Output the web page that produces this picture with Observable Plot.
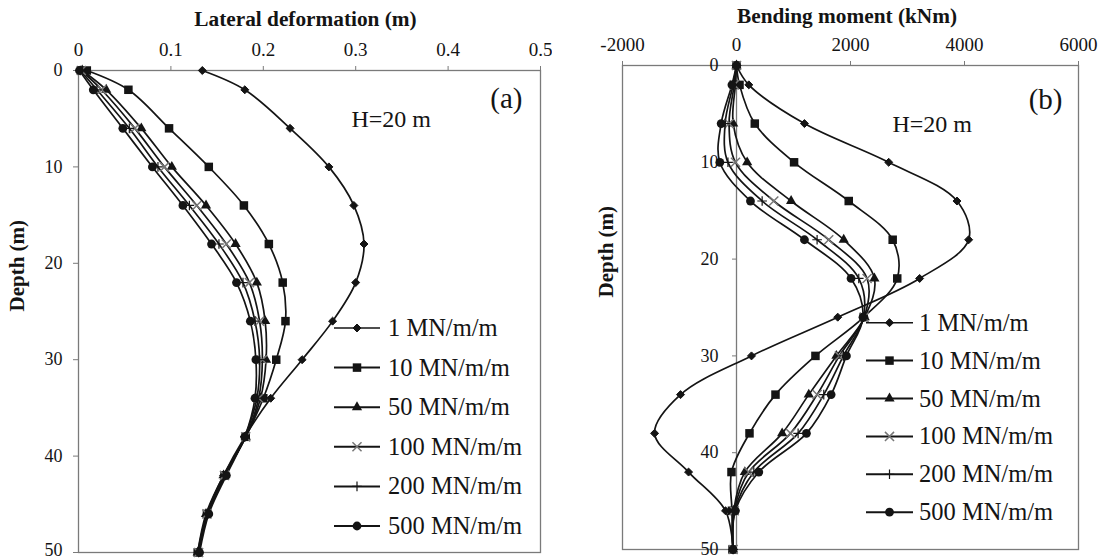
<!DOCTYPE html>
<html><head><meta charset="utf-8">
<script src="https://cdn.jsdelivr.net/npm/d3@7"></script>
<script src="https://cdn.jsdelivr.net/npm/@observablehq/plot@0.6"></script>
<style>
body{margin:0;background:#fff;}
#wrap{position:relative;width:1105px;height:560px;overflow:hidden;background:#fff;font-family:"Liberation Serif","Times New Roman",serif;color:#1a1a1a;}
.panel{position:absolute;top:0;}
#legend{position:absolute;left:0;top:0;pointer-events:none;}
svg text{font-family:"Liberation Serif","Times New Roman",serif;}
</style></head><body>
<div id="wrap"><div id="pa" class="panel" style="left:0"></div><div id="pb" class="panel" style="left:552px"></div><svg id="legend" width="1105" height="560"></svg></div>
<script>
// ---- data ----
const depths = [0, 2, 6, 10, 14, 18, 22, 26, 30, 34, 38, 42, 46, 50];
const stiffness = ["1 MN/m/m", "10 MN/m/m", "50 MN/m/m", "100 MN/m/m", "200 MN/m/m", "500 MN/m/m"];

// Lateral deformation (m)
const defl_1   = [0.134, 0.180, 0.229, 0.271, 0.298, 0.309, 0.300, 0.275, 0.242, 0.208, 0.180, 0.157, 0.139, 0.130];
const defl_10  = [0.009, 0.054, 0.098, 0.141, 0.179, 0.206, 0.221, 0.224, 0.214, 0.200, 0.181, 0.158, 0.139, 0.129];
const defl_50  = [0.004, 0.030, 0.068, 0.101, 0.138, 0.170, 0.193, 0.202, 0.203, 0.197, 0.181, 0.157, 0.138, 0.129];
const defl_100 = [0.003, 0.025, 0.061, 0.093, 0.128, 0.160, 0.185, 0.196, 0.199, 0.195, 0.181, 0.158, 0.139, 0.130];
const defl_200 = [0.002, 0.020, 0.055, 0.086, 0.120, 0.152, 0.178, 0.191, 0.196, 0.193, 0.180, 0.159, 0.140, 0.130];
const defl_500 = [0.001, 0.016, 0.048, 0.080, 0.113, 0.144, 0.171, 0.186, 0.192, 0.191, 0.180, 0.160, 0.141, 0.131];

// Bending moment (kNm)
const mom_1   = [0, 216, 1192, 2670, 3868, 4073, 3213, 1776, 263, -982, -1437, -841, -193, -60];
const mom_10  = [0, 53, 321, 1010, 1969, 2740, 2820, 2232, 1385, 684, 228, -88, -80, -70];
const mom_50  = [0, -20, -58, 187, 958, 1881, 2419, 2250, 1753, 1268, 801, 146, -50, -60];
const mom_100 = [0, -40, -130, -18, 654, 1618, 2291, 2240, 1805, 1414, 947, 216, -40, -60];
const mom_200 = [0, -60, -200, -150, 450, 1414, 2145, 2230, 1876, 1531, 1081, 304, -30, -60];
const mom_500 = [0, -80, -269, -292, 245, 1192, 2010, 2220, 1928, 1660, 1227, 391, -20, -60];

const xTicksA = [0, 0.1, 0.2, 0.3, 0.4, 0.5];
const xTicksB = [-2000, 0, 2000, 4000, 6000];
const yTicks = [0, 10, 20, 30, 40, 50];

// ---- styles ----
const INK = "#141414", GRID = "#7a7a7a";
const FONT = "Liberation Serif, Times New Roman, serif";
const sym = [
  {symbol: "diamond2", r: 3.6, fill: INK, stroke: INK, sw: 1},
  {symbol: "square", r: 4.8, fill: INK, stroke: "none", sw: 0},
  {symbol: "triangle", r: 3.8, fill: INK, stroke: "none", sw: 0},
  {symbol: "times", r: 4.2, fill: "none", stroke: "#777", sw: 1.5},
  {symbol: "plus", r: 3.2, fill: "none", stroke: INK, sw: 1.2},
  {symbol: "circle", r: 4.4, fill: INK, stroke: "none", sw: 0}
];

function rowsFor(seriesValues) {
  return seriesValues.map((vals, i) => depths.map((d, j) => ({series: stiffness[i], depth: d, value: vals[j]})));
}

function seriesMarks(rows) {
  const marks = [];
  rows.forEach((r) => {
    marks.push(Plot.line(r, {x: "value", y: "depth", curve: "catmull-rom", stroke: INK, strokeWidth: 1.7}));
  });
  rows.forEach((r, i) => {
    const s = sym[i];
    marks.push(Plot.dot(r, {x: "value", y: "depth", symbol: s.symbol, r: s.r, fill: s.fill, stroke: s.stroke, strokeWidth: s.sw}));
  });
  return marks;
}

const lastY = yTicks[yTicks.length - 1];

// ---- panel (a) ----
const WA = 552, HA = 560, mA = {l: 78, r: 12, t: 70, b: 8};
const rowsA = rowsFor([defl_1, defl_10, defl_50, defl_100, defl_200, defl_500]);
const plotA = Plot.plot({
  width: WA, height: HA,
  marginLeft: mA.l, marginRight: mA.r, marginTop: mA.t, marginBottom: mA.b,
  style: {fontFamily: FONT, fontSize: "19px", color: INK, background: "white", overflow: "visible"},
  x: {domain: [0, 0.5], axis: null},
  y: {domain: [0, 50], reverse: true, axis: null},
  marks: [
    Plot.frame({stroke: GRID, strokeWidth: 1.3}),
    Plot.axisX(xTicksA, {anchor: "top", tickSize: 5, tickPadding: 10, stroke: GRID, fill: INK, fontSize: 19, tickFormat: d => String(d), label: null}),
    Plot.axisY(yTicks, {anchor: "left", tickSize: 5, tickPadding: 11, stroke: GRID, fill: INK, fontSize: 18, tickFormat: d => d === lastY ? "" : String(d), label: null}),
    Plot.axisY([lastY], {anchor: "left", tickSize: 0, tickPadding: 16, dy: -2.5, fill: INK, fontSize: 18, label: null}),
    ...seriesMarks(rowsA),
    Plot.text(["Lateral deformation (m)"], {frameAnchor: "top", lineAnchor: "middle", dx: -4, dy: -51, fontWeight: "bold", fontSize: 21.3, fill: INK}),
    Plot.text(["Depth (m)"], {frameAnchor: "left", lineAnchor: "middle", rotate: -90, dx: -61.5, dy: 0, fontWeight: "bold", fontSize: 21, fill: INK}),
    Plot.text(["(a)"], {frameAnchor: "top-right", lineAnchor: "middle", textAnchor: "end", dx: -18, dy: 28, fontSize: 29, fill: INK}),
    Plot.text(["H=20 m"], {frameAnchor: "top-left", lineAnchor: "middle", textAnchor: "start", dx: 273, dy: 49, fontSize: 24, fill: INK})
  ]
});
document.getElementById("pa").appendChild(plotA);

// ---- panel (b) ----
const WB = 553, HB = 560, mB = {l: 70, r: 27, t: 65, b: 11};
const xDomB = [-2000, 6000];
const axisOffset = (WB - mB.l - mB.r) * (0 - xDomB[0]) / (xDomB[1] - xDomB[0]);
const rowsB = rowsFor([mom_1, mom_10, mom_50, mom_100, mom_200, mom_500]);
const plotB = Plot.plot({
  width: WB, height: HB,
  marginLeft: mB.l, marginRight: mB.r, marginTop: mB.t, marginBottom: mB.b,
  style: {fontFamily: FONT, fontSize: "19px", color: INK, background: "white", overflow: "visible"},
  x: {domain: xDomB, axis: null},
  y: {domain: [0, 50], reverse: true, axis: null},
  marks: [
    Plot.frame({stroke: GRID, strokeWidth: 1.3}),
    Plot.ruleX([0], {stroke: GRID, strokeWidth: 1.3}),
    Plot.axisX(xTicksB, {anchor: "top", tickSize: 5, tickPadding: 10, stroke: GRID, fill: INK, fontSize: 19, tickFormat: d => String(d), label: null}),
    Plot.axisY(yTicks, {anchor: "left", dx: axisOffset, tickSize: 4, tickPadding: 14, stroke: GRID, fill: INK, fontSize: 18, label: null}),
    ...seriesMarks(rowsB),
    Plot.text(["Bending moment (kNm)"], {frameAnchor: "top", lineAnchor: "middle", dx: -3.5, dy: -49, fontWeight: "bold", fontSize: 21.3, fill: INK}),
    Plot.text(["Depth (m)"], {frameAnchor: "left", lineAnchor: "middle", rotate: -90, dx: -16, dy: -10, fontWeight: "bold", fontSize: 21, fill: INK}),
    Plot.text(["(b)"], {frameAnchor: "top-right", lineAnchor: "middle", textAnchor: "end", dx: -16, dy: 34, fontSize: 29, fill: INK}),
    Plot.text(["H=20 m"], {frameAnchor: "top-left", lineAnchor: "middle", textAnchor: "start", dx: 270, dy: 59, fontSize: 24, fill: INK})
  ]
});
document.getElementById("pb").appendChild(plotB);

// ---- legends (inside each panel) ----
const symTypes = {diamond2: d3.symbolDiamond2, square: d3.symbolSquare, triangle: d3.symbolTriangle, times: d3.symbolTimes, plus: d3.symbolPlus, circle: d3.symbolCircle};
const legendSpecs = [
  {x0: 334, x1: 380, xt: 388, y0: 328, step: 39.6},
  {x0: 866, x1: 913, xt: 919, y0: 322.7, step: 37.9}
];
const lg = d3.select("#legend");
legendSpecs.forEach(spec => {
  stiffness.forEach((name, i) => {
    const y = spec.y0 + i * spec.step;
    const s = sym[i];
    const g = lg.append("g");
    g.append("line").attr("x1", spec.x0).attr("x2", spec.x1).attr("y1", y).attr("y2", y)
      .attr("stroke", INK).attr("stroke-width", i === 0 ? 1.4 : 2);
    g.append("path").attr("transform", `translate(${(spec.x0 + spec.x1) / 2},${y})`)
      .attr("d", d3.symbol().type(symTypes[s.symbol]).size(Math.PI * s.r * s.r)())
      .attr("fill", s.fill).attr("stroke", s.stroke).attr("stroke-width", s.sw);
    g.append("text").attr("x", spec.xt).attr("y", y).attr("dy", "0.33em")
      .attr("font-family", FONT).attr("font-size", 24.5).attr("fill", INK).text(name);
  });
});
</script>
</body></html>
